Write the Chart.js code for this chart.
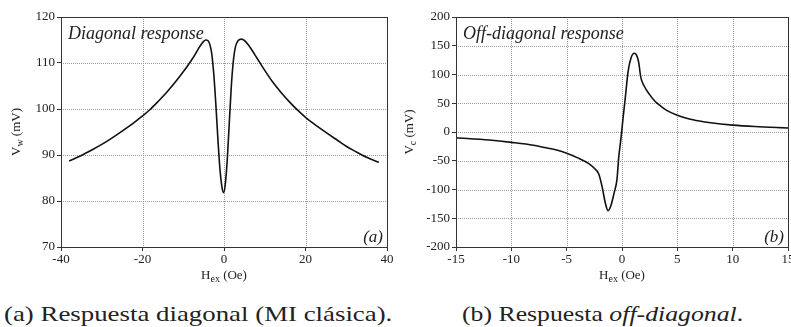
<!DOCTYPE html>
<html>
<head>
<meta charset="utf-8">
<script src="https://cdn.jsdelivr.net/npm/chart.js@4/dist/chart.umd.min.js"></script>
<style>
body { margin: 0; width: 791px; height: 327px; overflow: hidden; background: #fff; position: relative; font-family: 'Liberation Serif', serif; }
.box { position: absolute; top: 0; }
#boxA { left: 0; }
#boxB { left: 395px; }
.cap { position: absolute; top: 302px; font-size: 22px; line-height: 24px; color: #222; white-space: nowrap; transform-origin: 0 0; }
</style>
</head>
<body>
<div class="box" id="boxA"><canvas id="chartA" width="395" height="290"></canvas></div>
<div class="box" id="boxB"><canvas id="chartB" width="405" height="290"></canvas></div>
<div class="cap" id="capA" style="left:4px">(a) Respuesta diagonal (MI clásica).</div>
<div class="cap" id="capB" style="left:462px">(b) Respuesta <i>off-diagonal</i>.</div>
<script>
// diagonal response, H (Oe) vs V_w (mV)
var diagH = [-38, -35, -32, -30, -28, -25, -22, -20, -18, -16, -14, -12, -10, -9, -8, -7, -6, -5, -4.5, -4, -3.5, -3, -2.5, -2, -1.5, -1, -0.5, -0.1,
             0.3, 0.8, 1.3, 1.8, 2.3, 2.8, 3.5, 4.3, 5, 6, 7, 8, 9, 10, 12, 14, 16, 18, 20, 22, 25, 28, 30, 32, 35, 38];
var diagV = [88.7, 89.9, 91.3, 92.3, 93.4, 95.2, 97.1, 98.5, 100.0, 101.8, 103.7, 105.8, 108.1, 109.3, 110.6, 112.0, 113.5, 114.7, 115.0, 114.9, 114.1, 112.0, 107.5, 101.0, 93.5, 87.0, 83.0, 81.8,
             83.5, 89.0, 97.0, 105.0, 110.5, 113.5, 114.9, 115.2, 114.9, 113.9, 112.6, 111.2, 109.8, 108.4, 105.8, 103.6, 101.6, 99.8, 98.2, 96.8, 94.9, 93.1, 91.9, 90.9, 89.5, 88.4];

// off-diagonal response, H (Oe) vs V_c (mV)
var offH = [-15, -12, -10, -8, -7, -6, -5, -4, -3, -2.5, -2.1, -1.8, -1.5, -1.25, -1.0, -0.7, -0.45, -0.3, -0.1,
            0.1, 0.3, 0.55, 0.8, 1.1, 1.3, 1.5, 1.7, 2.0, 2.5, 3.0, 3.5, 4.0, 5.0, 6.0, 7.0, 8.0, 10, 12, 15];
var offV = [-10, -14, -18, -23, -27, -31, -37, -45, -55, -63, -73, -95, -124, -137, -128, -105, -82, -45, -12,
            25, 60, 105, 128, 137, 134, 122, 95, 80, 65, 53, 45, 38, 29, 23, 19, 16, 12, 9.5, 7];

var diagXTicks = [-40, -20, 0, 20, 40];
var diagYTicks = [70, 80, 90, 100, 110, 120];
var offXTicks = [-15, -10, -5, 0, 5, 10, 15];
var offYTicks = [-200, -150, -100, -50, 0, 50, 100, 150, 200];

var SERIF = "'Liberation Serif', serif";

function drawParts(ctx, parts, cx, cy) {
    var total = 0;
    parts.forEach(p => { ctx.font = p.font; total += ctx.measureText(p.text).width; });
    var x = cx - total / 2;
    parts.forEach(p => {
        ctx.font = p.font;
        ctx.fillText(p.text, x, cy + p.dy);
        x += ctx.measureText(p.text).width;
    });
}

// dotted grid, frame, axis titles with subscripts and the labels inside the plot
var decor = {
    id: 'decor',
    beforeDatasetsDraw(chart) {
        var ctx = chart.ctx;
        var a = chart.chartArea;
        var sx = chart.scales.x, sy = chart.scales.y;
        ctx.save();
        ctx.strokeStyle = '#999';
        ctx.lineWidth = 1;
        ctx.setLineDash([1, 1]);
        ctx.beginPath();
        sx.ticks.forEach(t => {
            var px = Math.round(sx.getPixelForValue(t.value)) + 0.5;
            ctx.moveTo(px, a.top);
            ctx.lineTo(px, a.bottom);
        });
        sy.ticks.forEach(t => {
            var py = Math.round(sy.getPixelForValue(t.value)) + 0.5;
            ctx.moveTo(a.left, py);
            ctx.lineTo(a.right, py);
        });
        ctx.stroke();
        ctx.restore();
    },
    afterDraw(chart, args, o) {
        var ctx = chart.ctx;
        var a = chart.chartArea;
        ctx.save();
        ctx.strokeStyle = '#333';
        ctx.lineWidth = 1;
        ctx.strokeRect(Math.round(a.left) + 0.5, Math.round(a.top) + 0.5, Math.round(a.right - a.left), Math.round(a.bottom - a.top));

        ctx.fillStyle = '#222';
        ctx.textBaseline = 'middle';
        var big = '13px ' + SERIF, small = '10px ' + SERIF;
        drawParts(ctx, [{text: 'H', font: big, dy: 0}, {text: 'ex', font: small, dy: 3}, {text: ' (Oe)', font: big, dy: 0}],
            (a.left + a.right) / 2, 276);

        ctx.save();
        ctx.translate(o.yTitleX, 132);
        ctx.rotate(-Math.PI / 2);
        drawParts(ctx, [{text: 'V', font: big, dy: 0}, {text: o.sub, font: small, dy: 3}, {text: ' (mV)', font: big, dy: 0}], 0, 0);
        ctx.restore();

        ctx.textBaseline = 'alphabetic';
        ctx.font = 'italic 18px ' + SERIF;
        ctx.fillText(o.label, a.left + 7, a.top + 22);
        ctx.textAlign = 'right';
        ctx.font = 'italic 17px ' + SERIF;
        ctx.fillText(o.tag, a.right - 4, a.bottom - 5);
        ctx.restore();
    }
};

function makeChart(id, xs, ys, xTicks, yTicks, yWidth, rightPad, deco) {
    var points = xs.map((x, i) => ({x: x, y: ys[i]}));
    var tickFont = {family: SERIF, size: 13};
    var grid = {drawOnChartArea: false, tickColor: '#333', tickLength: 4, lineWidth: 1};
    return new Chart(document.getElementById(id), {
        type: 'scatter',
        data: {
            datasets: [{
                data: points,
                showLine: true,
                borderColor: '#111',
                borderWidth: 1.6,
                pointRadius: 0,
                cubicInterpolationMode: 'monotone'
            }]
        },
        options: {
            responsive: false,
            animation: false,
            layout: {padding: {top: 17, right: rightPad, left: 0, bottom: 0}},
            plugins: {legend: {display: false}, tooltip: {enabled: false}, decor: deco},
            scales: {
                x: {
                    min: xTicks[0], max: xTicks[xTicks.length - 1],
                    afterBuildTicks: axis => { axis.ticks = xTicks.map(v => ({value: v})); },
                    afterFit: scale => { scale.height = 43; },
                    ticks: {font: tickFont, color: '#222', padding: 1, maxRotation: 0},
                    grid: grid,
                    border: {color: '#333'}
                },
                y: {
                    min: yTicks[0], max: yTicks[yTicks.length - 1],
                    afterBuildTicks: axis => { axis.ticks = yTicks.map(v => ({value: v})); },
                    afterFit: scale => { scale.width = yWidth; },
                    ticks: {font: tickFont, color: '#222', padding: 2},
                    grid: grid,
                    border: {color: '#333'}
                }
            }
        },
        plugins: [decor]
    });
}

var charts = [
    makeChart('chartA', diagH, diagV, diagXTicks, diagYTicks, 61, 8,
        {sub: 'w', yTitleX: 17, label: 'Diagonal response', tag: '(a)'}),
    makeChart('chartB', offH, offV, offXTicks, offYTicks, 61, 12,
        {sub: 'c', yTitleX: 15, label: 'Off-diagonal response', tag: '(b)'})
];

// stretch the captions to the width they have in the figure (offsetWidth ignores the transform)
function fitCaption(id, width) {
    var el = document.getElementById(id);
    el.style.transform = 'scaleX(' + (width / el.offsetWidth) + ')';
}
fitCaption('capA', 388);
fitCaption('capB', 281);

// redraw once the serif faces are surely loaded
Promise.all([
    document.fonts.load("13px 'Liberation Serif'"),
    document.fonts.load("italic 18px 'Liberation Serif'")
]).then(() => {
    charts.forEach(c => c.update());
    fitCaption('capA', 388);
    fitCaption('capB', 281);
});
</script>
</body>
</html>
